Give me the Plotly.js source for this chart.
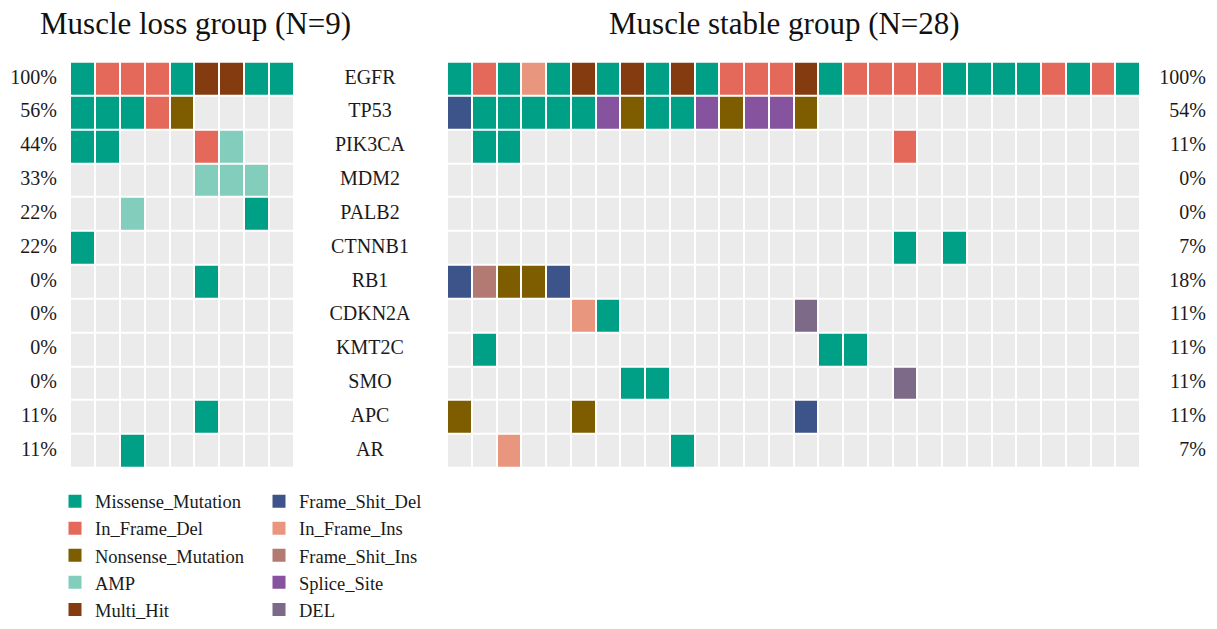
<!DOCTYPE html>
<html>
<head>
<meta charset="utf-8">
<script src="https://cdn.plot.ly/plotly-3.0.1.min.js"></script>
<style>html,body{margin:0;padding:0;background:#fff;}#chart{width:1217px;height:629px;}</style>
</head>
<body>
<div id="chart"></div>
<script>
// ---- data ----
const genes = ['EGFR','TP53','PIK3CA','MDM2','PALB2','CTNNB1','RB1','CDKN2A','KMT2C','SMO','APC','AR'];
const lossPct = ['100%','56%','44%','33%','22%','22%','0%','0%','0%','0%','11%','11%'];
const stablePct = ['100%','54%','11%','0%','0%','7%','18%','11%','11%','11%','11%','7%'];
const mutTypes = ['Missense_Mutation','In_Frame_Del','Nonsense_Mutation','AMP','Multi_Hit',
                  'Frame_Shit_Del','In_Frame_Ins','Frame_Shit_Ins','Splice_Site','DEL'];
const mutCodes = ['M','D','N','A','H','F','I','G','S','X'];   // '.' = no alteration
const mutColors = ['#00A087','#E5695A','#7E5C00','#82CDBB','#853B10',
                   '#3C5489','#E9967F','#B27A73','#86539E','#7D6A88'];
const emptyColor = '#EBEBEB';
const lossTitle = 'Muscle loss group (N=9)';
const stableTitle = 'Muscle stable group (N=28)';
// one string per gene, one character per sample
const lossMatrix = [
  'MDDDMHHMM',
  'MMMDN....',
  'MM...DA..',
  '.....AAA.',
  '..A....M.',
  'M........',
  '.....M...',
  '.........',
  '.........',
  '.........',
  '.....M...',
  '..M......'
];
const stableMatrix = [
  'MDMIMHMHMHMDDDHMDDDDMMMMDMDM',
  'FMMMMMSNMMSNSSN.............',
  '.MM...............D.........',
  '............................',
  '............................',
  '..................M.M.......',
  'FGNNF.......................',
  '.....IM.......X.............',
  '.M.............MM...........',
  '.......MM.........X.........',
  'N....N........F.............',
  '..I......M..................'
];

// ---- build ----
const nT = mutTypes.length;
function toZ(mat){ return mat.map(r => r.split('').map(c => c === '.' ? 0 : mutCodes.indexOf(c) + 1)); }
const allColors = [emptyColor].concat(mutColors);
const cs = [];
allColors.forEach((c, k) => {
  cs.push([k / (nT + 1), c]);
  cs.push([(k + 1) / (nT + 1), c]);
});
const zmin = 0, zmax = nT + 1;
function heat(mat, xa){
  const z = toZ(mat).map(r => r.map(v => v + 0.5));
  return {
    type: 'heatmap', z: z, y: genes, x: mat[0].split('').map((_, i) => i),
    xaxis: xa, yaxis: 'y', colorscale: cs, zmin: zmin, zmax: zmax,
    showscale: false, xgap: 2, ygap: 2, hoverinfo: 'skip'
  };
}
const serif = 'Liberation Serif, Times New Roman, serif';
const traces = [heat(lossMatrix, 'x'), heat(stableMatrix, 'x2')];
traces.push({type:'scatter', mode:'text', x: genes.map(() => 0), y: genes, text: genes,
  xaxis:'x3', yaxis:'y', textposition:'middle center', showlegend:false, hoverinfo:'skip',
  textfont:{family: serif, size: 20, color:'#1a1a1a'}});
traces.push({type:'scatter', mode:'text', x: genes.map(() => 1), y: genes, text: lossPct,
  xaxis:'x4', yaxis:'y', textposition:'middle left', showlegend:false, hoverinfo:'skip',
  textfont:{family: serif, size: 20, color:'#1a1a1a'}});
traces.push({type:'scatter', mode:'text', x: genes.map(() => 1), y: genes, text: stablePct,
  xaxis:'x5', yaxis:'y', textposition:'middle left', showlegend:false, hoverinfo:'skip',
  textfont:{family: serif, size: 20, color:'#1a1a1a'}});
mutTypes.forEach((name, i) => {
  traces.push({type:'scatter', mode:'markers', x:[null], y:[null], name: name,
    xaxis:'x', yaxis:'y', legend: i < 5 ? 'legend' : 'legend2',
    marker:{symbol:'square', size:13, color: mutColors[i]}, hoverinfo:'skip'});
});

const W = 1217, H = 629;
const hidden = {showgrid:false, zeroline:false, showticklabels:false, ticks:'', showline:false, fixedrange:true};
const yDom = [1 - 470 / H, 1 - 62 / H];
const legFont = {family: serif, size: 18.5, color:'#1a1a1a'};
const layout = {
  width: W, height: H, margin:{l:0, r:0, t:0, b:0},
  paper_bgcolor:'#fff', plot_bgcolor:'#fff',
  xaxis: Object.assign({}, hidden, {domain:[70 / W, 294 / W], range:[-0.5, 8.5], anchor:'y'}),
  xaxis2: Object.assign({}, hidden, {domain:[447 / W, 1140 / W], range:[-0.5, 27.5], anchor:'y'}),
  xaxis3: Object.assign({}, hidden, {domain:[330 / W, 410 / W], range:[-1, 1], anchor:'y'}),
  xaxis4: Object.assign({}, hidden, {domain:[0, 57 / W], range:[0, 1], anchor:'y'}),
  xaxis5: Object.assign({}, hidden, {domain:[1150 / W, 1206 / W], range:[0, 1], anchor:'y'}),
  yaxis: Object.assign({}, hidden, {domain: yDom, type:'category', range:[11.5, -0.5], anchor:'x'}),
  showlegend: true,
  legend: {x: 55 / W, y: 1 - 485 / H, xanchor:'left', yanchor:'top', font: legFont,
           bgcolor:'rgba(0,0,0,0)', borderwidth:0, itemwidth:30, tracegroupgap:0},
  legend2: {x: 259 / W, y: 1 - 485 / H, xanchor:'left', yanchor:'top', font: legFont,
           bgcolor:'rgba(0,0,0,0)', borderwidth:0, itemwidth:30, tracegroupgap:0},
  annotations: [
    {text: lossTitle, xref:'paper', yref:'paper', x: 195 / W, y: 1 - 24 / H,
     xanchor:'center', yanchor:'middle', showarrow:false, font:{family: serif, size: 31, color:'#111'}},
    {text: stableTitle, xref:'paper', yref:'paper', x: 784 / W, y: 1 - 24 / H,
     xanchor:'center', yanchor:'middle', showarrow:false, font:{family: serif, size: 31, color:'#111'}}
  ]
};
Plotly.newPlot('chart', traces, layout, {displayModeBar:false, staticPlot:true});
</script>
</body>
</html>
